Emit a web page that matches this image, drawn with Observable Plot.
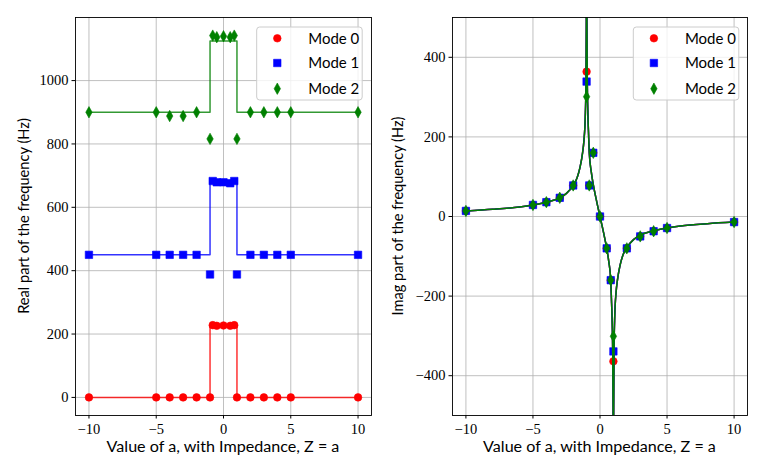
<!DOCTYPE html>
<html><head><meta charset="utf-8">
<script src="https://cdn.jsdelivr.net/npm/d3@7"></script>
<script src="https://cdn.jsdelivr.net/npm/@observablehq/plot@0.6"></script>
<style>
body{margin:0;background:#fff;}
#chart{position:relative;width:766px;height:474px;overflow:hidden;}
#chart svg{position:absolute;top:0;}
</style></head><body><div id="chart"></div>
<script>
// ---- data ----
const aValues   = [-10, -5, -4, -3, -2, -1, -0.8, -0.5, 0, 0.5, 0.8, 1, 2, 3, 4, 5, 10];
const realMode0 = [0, 0, 0, 0, 0, 0, 228, 226, 227, 226, 228, 0, 0, 0, 0, 0, 0];
const realMode1 = [450, 450, 450, 450, 450, 388, 683, 679, 679, 676, 683, 388, 450, 450, 450, 450, 450];
const realMode2 = [900, 900, 888, 888, 900, 816, 1142, 1137, 1140, 1137, 1142, 816, 900, 900, 900, 900, 900];
const stepX     = [-10, -1, -1, 1, 1, 10];
const stepMode0 = [0, 0, 227, 227, 0, 0];
const stepMode1 = [450, 450, 680, 680, 450, 450];
const stepMode2 = [900, 900, 1125, 1125, 900, 900];
const imagMode0 = [14, 29, 36, 47, 78, 364, 78, 160, 0, -80, -160, -364, -80, -50, -37, -29, -14];
const imagMode1 = [14, 29, 36, 47, 78, 339, 78, 160, 0, -80, -160, -339, -80, -50, -37, -29, -14];
const imagMode2 = [14, 29, 36, 47, 78, 301, 78, 160, 0, -80, -160, -301, -80, -50, -37, -29, -14];
const curveX = [-10, -8, -6, -5, -4, -3, -2.5, -2, -1.7, -1.5, -1.3, -1.2, -1.1, -1.05, -1.02, -1.01, -1.004, NaN,
  -0.996, -0.99, -0.98, -0.95, -0.9, -0.85, -0.8, -0.65, -0.5, -0.25, 0, 0.25, 0.5, 0.65, 0.8, 0.85, 0.9, 0.95, 0.98, 0.99, 0.996, NaN,
  1.004, 1.01, 1.02, 1.05, 1.1, 1.2, 1.3, 1.5, 1.7, 2, 2.5, 3, 4, 5, 6, 8, 10];
const curveY = [14, 18, 24, 29, 36, 47, 58, 78, 98, 122, 160, 190, 250, 330, 480, 650, 1200, NaN,
  1200, 650, 500, 350, 255, 205, 160, 112, 80, 38, 0, -38, -80, -112, -160, -205, -255, -350, -500, -650, -1200, NaN,
  -1200, -650, -480, -330, -250, -190, -160, -122, -98, -78, -58, -47, -36, -29, -24, -18, -14];
const xTicks = [-10, -5, 0, 5, 10];
const realTicks = [0, 200, 400, 600, 800, 1000];
const imagTicks = [-400, -200, 0, 200, 400];
const modeNames = ["Mode 0", "Mode 1", "Mode 2"];
const modeColors = ["#ff0000", "#0000ff", "#008000"];
const xLabel = "Value of a, with Impedance, Z = a";
const realLabel = "Real part of the frequency (Hz)";
const imagLabel = "Imag part of the frequency (Hz)";

// ---- tables ----
const pointTable = aValues.map((a, i) => ({a, r0: realMode0[i], r1: realMode1[i], r2: realMode2[i], i0: imagMode0[i], i1: imagMode1[i], i2: imagMode2[i]}));
const stepTable = stepX.map((x, i) => ({x, s0: stepMode0[i], s1: stepMode1[i], s2: stepMode2[i]}));
const curveTable = curveX.map((x, i) => ({x, y: curveY[i]}));

// ---- symbols ----
const thinDiamond = {draw(ctx, size) {
  const r = Math.sqrt(size / Math.PI), w = r * 0.56;
  ctx.moveTo(0, -r); ctx.lineTo(w, 0); ctx.lineTo(0, r); ctx.lineTo(-w, 0); ctx.closePath();
}};
const symbols = [d3.symbolCircle, d3.symbolSquare, thinDiamond];
const radii = [3.8, 4.2, 5.7];
const fmt = d => d < 0 ? "\u2212" + Math.abs(d) : String(d);
const SANS = "Lato, 'DejaVu Sans', sans-serif";
const SERIF = "'Liberation Serif', 'DejaVu Serif', serif";

function modeMarks(table, lineTable, lineY, dotY, clip) {
  const m = [];
  for (let k = 0; k < 3; k++) {
    m.push(Plot.line(lineTable, {x: "x", y: lineY[k], stroke: modeColors[k], strokeWidth: 1.5, strokeOpacity: clip ? 1 : 0.8, clip, curve: clip ? "monotone-x" : "linear"}));
    m.push(Plot.dot(table, {x: "a", y: dotY[k], r: radii[k], symbol: symbols[k], fill: modeColors[k], stroke: modeColors[k], strokeWidth: 0.6, clip}));
  }
  return m;
}

function panel({yDomain, yTicks, marginLeft, marginRight, marks}) {
  const svg = Plot.plot({
    width: 383, height: 474, marginLeft, marginRight, marginTop: 17, marginBottom: 59,
    x: {domain: [-11, 11]}, y: {domain: yDomain},
    style: {background: "white", overflow: "visible", color: "black"},
    marks: [
      Plot.gridX(xTicks, {stroke: "#b0b0b0", strokeOpacity: 1, strokeWidth: 0.8}),
      Plot.gridY(yTicks, {stroke: "#b0b0b0", strokeOpacity: 1, strokeWidth: 0.8}),
      ...marks,
      Plot.frame({stroke: "#000", strokeWidth: 0.9}),
      Plot.axisX(xTicks, {tickSize: 3.5, tickPadding: 4.5, tickFormat: fmt, label: null, fontSize: 14.5}),
      Plot.axisY(yTicks, {tickSize: 3.5, tickPadding: 3.5, tickFormat: fmt, label: null, fontSize: 14.5})
    ]
  });
  d3.select(svg).selectAll("text").style("font-family", SERIF);
  return svg;
}

function fit(sel, target) {
  const w = sel.node().getComputedTextLength();
  const fs = parseFloat(sel.attr("font-size"));
  sel.attr("font-size", fs * target / w);
}

function decorate(svg, {frameLeft, frameRight, ylabX, ylab, ylabW, legendX}) {
  const s = d3.select(svg);
  const xl = s.append("text").attr("x", (frameLeft + frameRight) / 2).attr("y", 452)
    .attr("text-anchor", "middle").style("font-family", SANS).attr("font-size", 15).attr("fill", "black").text(xLabel);
  fit(xl, 233);
  const yl = s.append("text").attr("transform", `translate(${ylabX},216) rotate(-90)`)
    .attr("text-anchor", "middle").style("font-family", SANS).attr("font-size", 15).attr("fill", "black").text(ylab);
  fit(yl, ylabW);
  const g = s.append("g").attr("transform", `translate(${legendX},27)`);
  g.append("rect").attr("width", 105.5).attr("height", 73).attr("rx", 3)
    .attr("fill", "white").attr("fill-opacity", 0.8).attr("stroke", "#cccccc").attr("stroke-width", 1);
  const rows = [11.3, 36, 61.7];
  for (let k = 0; k < 3; k++) {
    const size = Math.PI * radii[k] * radii[k];
    g.append("path").attr("transform", `translate(20.6,${rows[k]})`)
      .attr("d", d3.symbol(symbols[k], size)()).attr("fill", modeColors[k]).attr("stroke", modeColors[k]).attr("stroke-width", 0.6);
    const t = g.append("text").attr("x", 51.6).attr("y", rows[k]).attr("dy", "0.36em")
      .attr("text-anchor", "start").style("font-family", SANS).attr("font-size", 16).attr("fill", "black").text(modeNames[k]);
    fit(t, 51);
  }
}

const chart = document.getElementById("chart");

const left = panel({
  yDomain: [-57.1, 1199.1], yTicks: realTicks, marginLeft: 75, marginRight: 12,
  marks: modeMarks(pointTable, stepTable, ["s0", "s1", "s2"], ["r0", "r1", "r2"], false)
});
left.style.left = "0px";
chart.appendChild(left);
decorate(left, {frameLeft: 75, frameRight: 371, ylabX: 29, ylab: realLabel, ylabW: 196, legendX: 256.7});

const right = panel({
  yDomain: [-500, 500], yTicks: imagTicks, marginLeft: 69, marginRight: 19,
  marks: modeMarks(pointTable, curveTable, ["y", "y", "y"], ["i0", "i1", "i2"], true)
});
right.style.left = "383px";
chart.appendChild(right);
decorate(right, {frameLeft: 69, frameRight: 364, ylabX: 19.5, ylab: imagLabel, ylabW: 199, legendX: 250.3});
</script></body></html>
